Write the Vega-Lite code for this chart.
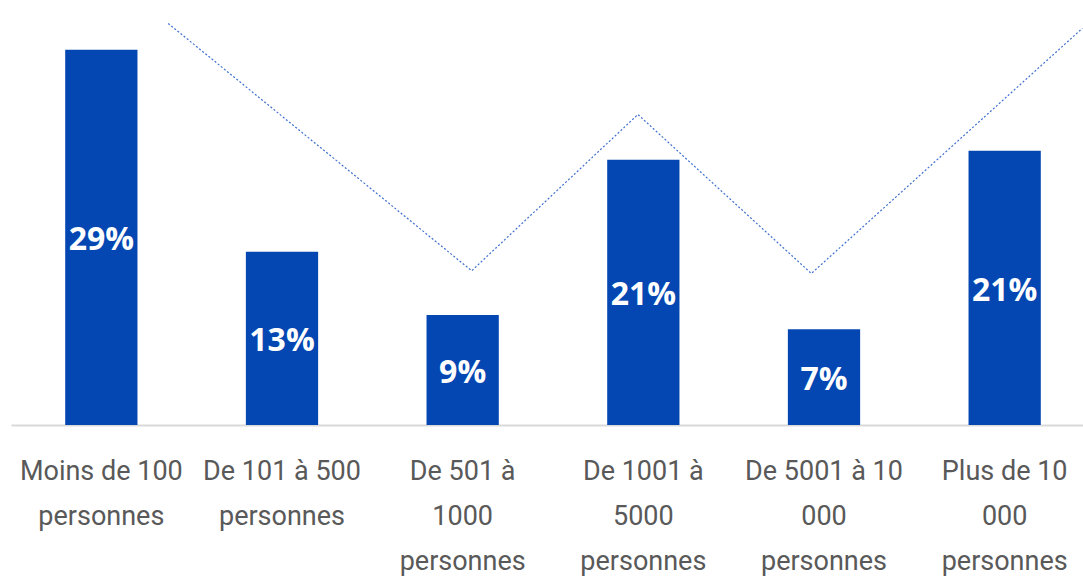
{
  "$schema": "https://vega.github.io/schema/vega-lite/v6.json",
  "width": 1084,
  "height": 425,
  "autosize": {"type": "none"},
  "padding": {"left": 11, "top": 0, "right": 0, "bottom": 151},
  "background": "white",
  "config": {"view": {"stroke": null}},
  "datasets": {
    "bars": [
      {"cat": "Moins de 100|personnes", "value": 29.0, "label": "29%"},
      {"cat": "De 101 à 500|personnes", "value": 13.4, "label": "13%"},
      {"cat": "De 501 à|1000|personnes", "value": 8.5, "label": "9%"},
      {"cat": "De 1001 à|5000|personnes", "value": 20.5, "label": "21%"},
      {"cat": "De 5001 à 10|000|personnes", "value": 7.4, "label": "7%"},
      {"cat": "Plus de 10|000|personnes", "value": 21.2, "label": "21%"}
    ],
    "zigzag": [
      {"pos": 0.37, "pct": 31.04},
      {"pos": 2.05, "pct": 11.92},
      {"pos": 2.97, "pct": 24.0},
      {"pos": 3.93, "pct": 11.71},
      {"pos": 5.43, "pct": 30.66}
    ]
  },
  "resolve": {"scale": {"x": "independent"}},
  "layer": [
    {
      "data": {"name": "bars"},
      "mark": {"type": "bar", "color": "#0447B2"},
      "encoding": {
        "x": {
          "field": "cat",
          "type": "nominal",
          "sort": null,
          "scale": {"paddingInner": 0.6, "paddingOuter": 0.3},
          "axis": {
            "title": null,
            "labelExpr": "split(datum.label, '|')",
            "labelAngle": 0,
            "ticks": false,
            "domainColor": "#d9d9d9",
            "domainWidth": 2,
            "labelFont": "Roboto",
            "labelFontSize": 27,
            "labelColor": "#595959",
            "labelLineHeight": 45,
            "labelPadding": 33,
            "labelLimit": 0,
            "labelBaseline": "top",
            "labelOverlap": false
          }
        },
        "y": {"field": "value", "type": "quantitative", "scale": {"domain": [0, 32.85], "nice": false, "zero": true}, "axis": null}
      }
    },
    {
      "data": {"name": "bars"},
      "transform": [{"calculate": "datum.value / 2", "as": "mid"}],
      "mark": {"type": "text", "color": "white", "font": "Open Sans", "fontWeight": "bold", "fontSize": 32, "baseline": "middle", "align": "center", "dy": 3},
      "encoding": {
        "x": {"field": "cat", "type": "nominal", "sort": null, "scale": {"paddingInner": 0.6, "paddingOuter": 0.3}, "axis": null},
        "y": {"field": "mid", "type": "quantitative"},
        "text": {"field": "label"}
      }
    },
    {
      "data": {"name": "zigzag"},
      "mark": {"type": "line", "color": "#3f6fd0", "strokeWidth": 1.2, "strokeDash": [2, 2]},
      "encoding": {
        "x": {"field": "pos", "type": "quantitative", "scale": {"domain": [-0.5, 5.5], "nice": false, "zero": false}, "axis": null},
        "y": {"field": "pct", "type": "quantitative"}
      }
    }
  ]
}
